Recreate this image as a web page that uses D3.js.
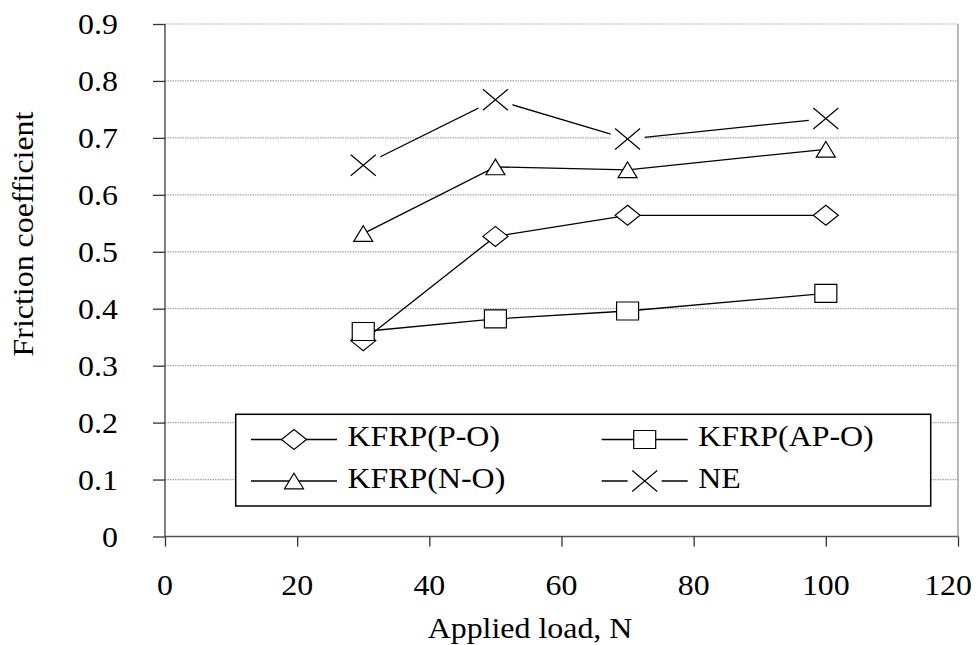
<!DOCTYPE html>
<html>
<head>
<meta charset="utf-8">
<script src="https://cdn.jsdelivr.net/npm/d3@7"></script>
<style>
  html, body { margin: 0; padding: 0; background: #fff; }
  svg { display: block; }
  text { font-family: "Liberation Serif", "Times New Roman", serif; fill: #000; }
</style>
</head>
<body>
<svg id="chart" width="979" height="645"></svg>
<script>
// ---- data ----
const loads = [30, 50, 70, 100];
const kfrpPO  = [0.344, 0.527, 0.564, 0.564];
const kfrpAPO = [0.360, 0.382, 0.396, 0.427];
const kfrpNO  = [0.532, 0.649, 0.644, 0.680];
const ne      = [0.652, 0.767, 0.698, 0.734];
const seriesNames = ["KFRP(P-O)", "KFRP(AP-O)", "KFRP(N-O)", "NE"];
const xTicks = [0, 20, 40, 60, 80, 100, 120];
const yTicks = [0, 0.1, 0.2, 0.3, 0.4, 0.5, 0.6, 0.7, 0.8, 0.9];
const xTitle = "Applied load, N";
const yTitle = "Friction coefficient";

(function () {
// ---- layout ----
const svg = d3.select("#chart");
const W = 979;
const pLeft = 165, pRight = 958, pTop = 24, pBottom = 536.5;
const x = d3.scaleLinear().domain([0, 120]).range([pLeft, pRight]);
const y = d3.scaleLinear().domain([0, 0.9]).range([pBottom, pTop]);
const FS = 28.5, SX = 1.12;

function stretchedText(g, tx, ty, str, anchor, rotate) {
  return g.append("g")
    .attr("transform", `translate(${tx},${ty})` + (rotate ? ` rotate(${rotate})` : "") + ` scale(${SX},1)`)
    .append("text")
    .attr("font-size", FS)
    .attr("text-anchor", anchor || "start")
    .text(str);
}

// gridlines
svg.append("g").selectAll("line").data(yTicks.slice(1)).join("line")
  .attr("x1", pLeft).attr("x2", pRight)
  .attr("y1", d => y(d)).attr("y2", d => y(d))
  .attr("stroke", "#a8a8a8").attr("stroke-width", 1.2)
  .attr("stroke-dasharray", "1.5,1");

// right border
svg.append("line").attr("x1", pRight).attr("x2", pRight).attr("y1", pTop).attr("y2", pBottom)
  .attr("stroke", "#8c8c8c").attr("stroke-width", 1.2);

// axes
const xAxis = d3.axisBottom(x).tickValues(xTicks).tickSize(10).tickFormat("");
const gx = svg.append("g").attr("transform", `translate(0,${pBottom})`).call(xAxis);
gx.select(".domain").attr("stroke", "#555").attr("stroke-width", 1.5).attr("d", `M${pLeft},0H${pRight}`);
gx.selectAll(".tick line").attr("stroke", "#333").attr("stroke-width", 1.3);

const yAxis = d3.axisLeft(y).tickValues(yTicks).tickSize(12).tickFormat("");
const gy = svg.append("g").attr("transform", `translate(${pLeft},0)`).call(yAxis);
gy.select(".domain").attr("stroke", "#555").attr("stroke-width", 1.5).attr("d", `M0,${pTop}V${pBottom}`);
gy.selectAll(".tick line").attr("stroke", "#333").attr("stroke-width", 1.3);

// tick labels (last one kept inside the page, as in the reference)
const lbl = svg.append("g");
xTicks.forEach((v, i) => {
  if (i === xTicks.length - 1) stretchedText(lbl, W - 7, 594.5, String(v), "end");
  else stretchedText(lbl, x(v), 594.5, String(v), "middle");
});
yTicks.forEach(v => stretchedText(lbl, 118, y(v) + 10, v === 0 ? "0" : v.toFixed(1), "end"));

// axis titles
stretchedText(svg, 530, 637.5, xTitle, "middle");
stretchedText(svg, 33, 234, yTitle, "middle", -90);

// ---- marker shapes ----
function markerPath(type) {
  if (type === "diamond") { const w = 12.5, h = 10; return `M0,${-h}L${w},0L0,${h}L${-w},0Z`; }
  if (type === "square")  { const w = 11, h = 9; return `M${-w},${-h}H${w}V${h}H${-w}Z`; }
  if (type === "triangle"){ const w = 9.5, h = 7.8; return `M0,${-h}L${w},${h}L${-w},${h}Z`; }
  const w = 12.5, h = 10.5; return `M${-w},${-h}L${w},${h}M${-w},${h}L${w},${-h}`;
}
function drawMarker(g, type, cx, cy) {
  const m = g.append("g").attr("transform", `translate(${cx},${cy})`);
  if (type === "x") {
    m.append("rect").attr("x", -17).attr("y", -14).attr("width", 34).attr("height", 28).attr("fill", "#fff");
    m.append("path").attr("d", markerPath(type)).attr("fill", "none").attr("stroke", "#000").attr("stroke-width", 1.2);
  } else {
    m.append("path").attr("d", markerPath(type)).attr("fill", "#fff").attr("stroke", "#000").attr("stroke-width", 1.2);
  }
}

const series = [
  { name: seriesNames[0], values: kfrpPO,  marker: "diamond" },
  { name: seriesNames[1], values: kfrpAPO, marker: "square" },
  { name: seriesNames[2], values: kfrpNO,  marker: "triangle" },
  { name: seriesNames[3], values: ne,      marker: "x" }
];

const line = d3.line().x(d => x(d[0])).y(d => y(d[1]));
const plot = svg.append("g");
series.forEach(s => {
  const pts = loads.map((l, i) => [l, s.values[i]]);
  const g = plot.append("g");
  g.append("path").attr("d", line(pts)).attr("fill", "none").attr("stroke", "#000").attr("stroke-width", 1.3);
  pts.forEach(p => drawMarker(g, s.marker, x(p[0]), y(p[1])));
});

// ---- legend ----
const lg = svg.append("g");
lg.append("rect").attr("x", 235.7).attr("y", 414.3).attr("width", 695).attr("height", 91.7)
  .attr("fill", "#fff").attr("stroke", "#000").attr("stroke-width", 1.5);
const legendPos = [
  { lx: 251, ly: 439.5 }, { lx: 601.7, ly: 439.5 },
  { lx: 251, ly: 481 },   { lx: 601.7, ly: 481 }
];
series.forEach((s, i) => {
  const p = legendPos[i];
  const g = lg.append("g");
  g.append("line").attr("x1", p.lx).attr("x2", p.lx + 86).attr("y1", p.ly).attr("y2", p.ly)
    .attr("stroke", "#000").attr("stroke-width", 1.3);
  drawMarker(g, s.marker, p.lx + 43, p.ly);
  stretchedText(g, p.lx + 96.5, p.ly + 6.8, s.name, "start");
});
})();
</script>
</body>
</html>
